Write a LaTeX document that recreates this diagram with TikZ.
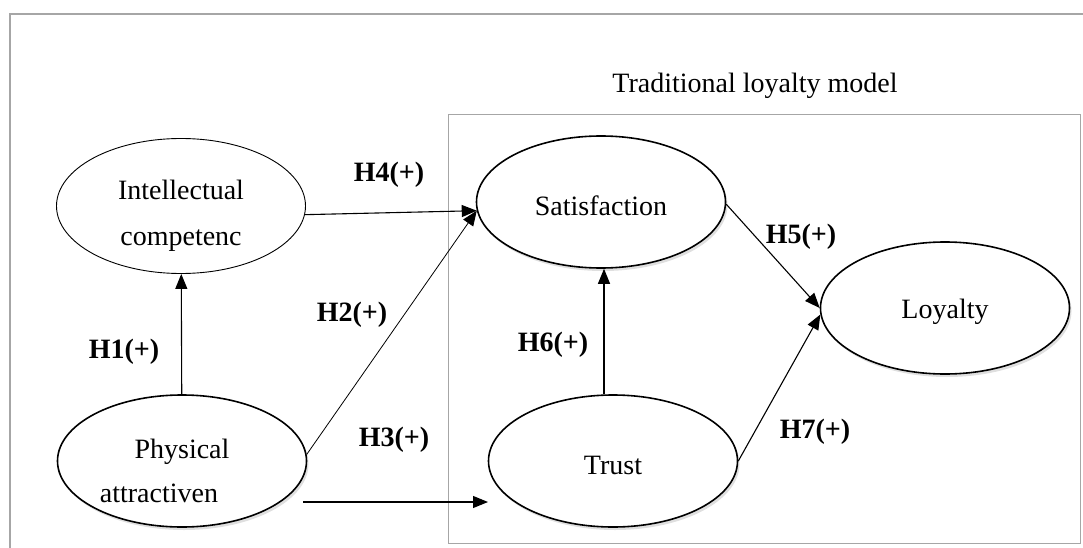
\documentclass[tikz,border=0pt]{standalone}
\usepackage{fontspec}
\setmainfont{Liberation Serif}
\usetikzlibrary{shapes.geometric,arrows.meta,shadows}
\tikzset{
		frame/.style={draw=gray!70, line width=1.2pt},
		latent/.style={
			ellipse, draw, line width=1.6pt, fill=white, minimum width=249pt, minimum height=132pt, inner sep=0pt, align=center,
			drop shadow={shadow xshift=2pt, shadow yshift=-3pt, opacity=0.25}},
		plain/.style={
			ellipse, draw, line width=0.9pt, fill=white, minimum width=249pt, minimum height=135pt, inner sep=0pt, align=center},
		low/.style={text height=27pt},
		hyp/.style={font=\fontsize{28}{34}\selectfont\bfseries},
		link/.style={draw, line width=1.1pt, -{Triangle[length=15pt,width=12pt]}},
	}
\def\lift{\rule{0pt}{39pt}}

\begin{document}
\begin{tikzpicture}[
			x=1pt, y=-1pt, font=\fontsize{28}{46}\selectfont]
			\useasboundingbox (0,0) rectangle (1083,548);
			\draw[frame] (10,548) -- (10,14) -- (1083,14);
			\draw[frame, line width=1pt] (448,115) rectangle (1080,543);
			\node[anchor=base] (title) at (755,93) {Traditional loyalty model};
			\node[plain] (intel) at (181,206) {\lift Intellectual\\competenc};
			\node[latent, font=\fontsize{28}{44}\selectfont] (phys) at (182,461) {\lift\hspace*{0pt}Physical\\attractiven\hspace*{46pt}};
			\node[latent, low] (satis) at (601,202) {Satisfaction};
			\node[latent, low] (trust) at (613,461) {Trust};
			\node[latent, low] (loyal) at (945,308) {Loyalty};
			\coordinate (p3) at (303,502);
			\coordinate (t3) at (488,502);
			\draw[link] (phys) -- (intel);
			\draw[link, line width=0.8pt] (phys.3) -- (satis.184);
			\draw[link] (p3) -- (t3);
			\draw[link] (intel.-4) -- (satis.184);
			\draw[link] (satis.-1) -- (loyal.180);
			\draw[link] ([xshift=-9pt]trust.north) -- ([xshift=-9pt]trust.north |- satis.south);
			\draw[link] (trust.east) -- (loyal.183);
			\node[hyp] (h1) at (124,352) {H1(+)};
			\node[hyp] (h2) at (352,315) {H2(+)};
			\node[hyp] (h3) at (394,440) {H3(+)};
			\node[hyp] (h4) at (389,175) {H4(+)};
			\node[hyp] (h5) at (801,237) {H5(+)};
			\node[hyp] (h6) at (553,345) {H6(+)};
			\node[hyp] (h7) at (815,432) {H7(+)};
			\end{tikzpicture}
\end{document}
